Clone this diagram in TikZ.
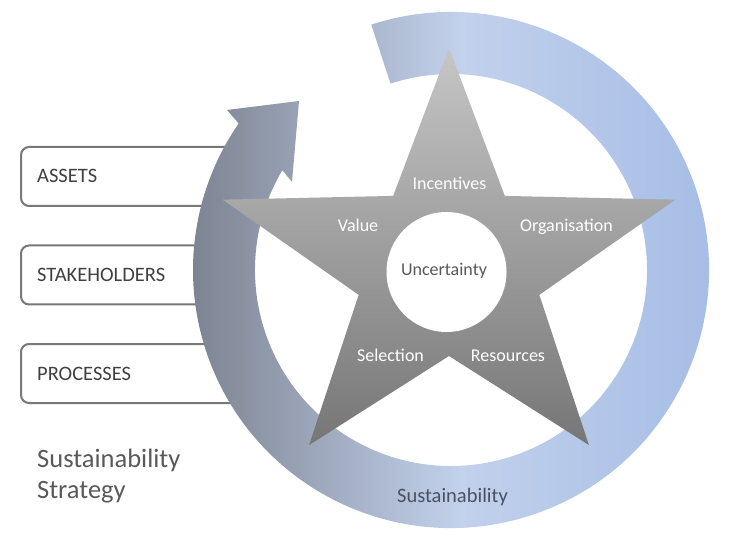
\documentclass[tikz,border=0pt]{standalone}
\usepackage{fontspec}
\setmainfont{Carlito}
\usepackage{xcolor}
\usepackage{tikz}

\definecolor{boxline}{HTML}{787878}
\definecolor{textgrey}{HTML}{404040}
\definecolor{titlegrey}{HTML}{595959}
\definecolor{ringleft}{HTML}{7A808D}
\definecolor{ringmid}{HTML}{C2D1EC}
\definecolor{ringright}{HTML}{A3BBE5}
\definecolor{ringtext}{HTML}{4A5163}
\definecolor{starhi}{HTML}{C6C6C6}
\definecolor{starlo}{HTML}{767676}

\tikzset{
  box/.style={draw=boxline, line width=2pt, rounded corners=8pt, fill=white,
    minimum width=224pt, minimum height=59pt},
  boxtext/.style={anchor=base west, inner sep=0pt, text=textgrey, font=\fontsize{20.5}{24}\selectfont},
  starlabel/.style={anchor=base, text=white, font=\fontsize{18}{22}\selectfont},
}

\begin{document}
\begin{tikzpicture}[x=1pt, y=1pt]
  \useasboundingbox (0,0) rectangle (743,541);

  \node[box] (assets) at (133,364.5) {};
  \node[box] (stakeholders) at (133,266) {};
  \node[box] (processes) at (133,167.5) {};
  \node[boxtext] (assetslbl) at (37,358) {ASSETS};
  \node[boxtext] (stakeholderslbl) at (37,259.5) {STAKEHOLDERS};
  \node[boxtext] (processeslbl) at (37,161) {PROCESSES};

  \shade[left color=ringleft, right color=ringright, middle color=ringmid]
    ([shift={(451,271)}]108:258) arc[start angle=108, end angle=-214.6, radius=258pt]
    -- (227,431) -- (299,440) -- (292,359)
    -- ([shift={(451,271)}]-210.6:196) arc[start angle=-210.6, end angle=108, radius=196pt]
    -- cycle;

  \begin{scope}[shift={(449,273.5)}]
    \shade[top color=starhi, bottom color=starlo] (0,219.5)
      \foreach \a in {126,198,270,342,414} {
        -- ({95*cos(\a)},{88.5*sin(\a)}) -- ({238*cos(\a+36)},{219.5*sin(\a+36)})
      } -- cycle;
  \end{scope}
  \fill[white] (446.5,269) circle (60pt);

  \node[starlabel] (incentives) at (449.5,351) {Incentives};
  \node[starlabel] (value) at (358,309) {Value};
  \node[starlabel] (organisation) at (566.5,309) {Organisation};
  \node[starlabel] (selection) at (390.5,180) {Selection};
  \node[starlabel] (resources) at (508,180) {Resources};
  \node[anchor=base, text=titlegrey, font=\fontsize{18}{22}\selectfont] (uncertainty) at (444,265) {Uncertainty};
  \node[anchor=base, text=ringtext, font=\fontsize{20.5}{24}\selectfont] (sustainability) at (452.5,39) {Sustainability};

  \node[anchor=base west, inner sep=0pt, text=titlegrey, font=\fontsize{26.5}{33}\selectfont] (strategy1) at (37,74) {Sustainability};
  \node[anchor=base west, inner sep=0pt, text=titlegrey, font=\fontsize{26.5}{33}\selectfont] (strategy2) at (37,43) {Strategy};
\end{tikzpicture}
\end{document}
